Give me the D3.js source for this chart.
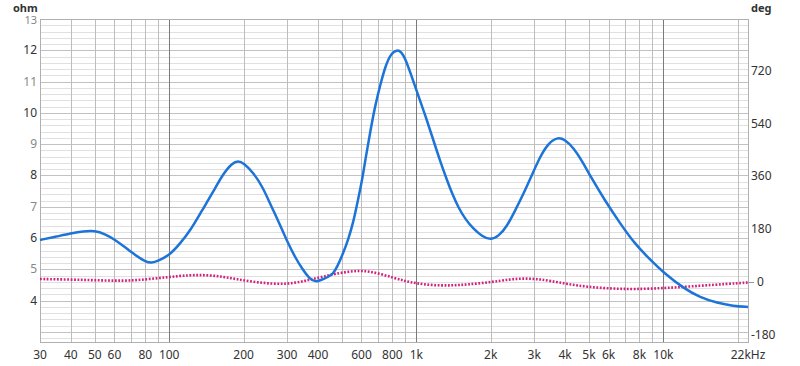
<!DOCTYPE html>
<meta charset="utf-8">
<style>
body { margin: 0; background: #fff; }
text { font-family: "Noto Sans", "DejaVu Sans", sans-serif; }
</style>
<body>
<script src="https://cdn.jsdelivr.net/npm/d3@7"></script>
<script>
// impedance curve (ohm)
var impFreq = [30, 35, 40, 45, 50, 55, 60, 66, 73, 80, 85, 90, 100, 110, 122, 135, 150, 165, 180, 190, 200, 219, 240, 256, 280, 300, 325, 348, 370, 390, 410, 440, 460, 480, 506, 530, 556, 580, 604, 625, 650, 680, 715, 750, 790, 837, 870, 901, 950, 1010, 1090, 1170, 1250, 1330, 1400, 1480, 1580, 1700, 1850, 1990, 2150, 2330, 2500, 2710, 2950, 3170, 3400, 3710, 4000, 4330, 4700, 5060, 5800, 6670, 7600, 8860, 10000, 12050, 14100, 16500, 19180, 22000];
var impOhm  = [5.94, 6.05, 6.15, 6.22, 6.24, 6.13, 5.96, 5.72, 5.45, 5.25, 5.2, 5.27, 5.45, 5.8, 6.25, 6.85, 7.45, 8.05, 8.4, 8.47, 8.4, 8.1, 7.6, 7.1, 6.45, 5.9, 5.35, 4.98, 4.7, 4.6, 4.65, 4.76, 4.85, 5.1, 5.52, 5.95, 6.5, 7.2, 7.86, 8.6, 9.36, 10.2, 10.9, 11.5, 11.9, 12.02, 11.95, 11.75, 11.25, 10.64, 9.9, 9.15, 8.45, 7.86, 7.4, 6.98, 6.6, 6.3, 6.05, 5.94, 6.05, 6.38, 6.85, 7.4, 8.05, 8.6, 9.0, 9.23, 9.15, 8.88, 8.45, 7.98, 7.2, 6.48, 5.85, 5.3, 4.9, 4.4, 4.1, 3.93, 3.83, 3.8];
// phase curve (deg)
var phFreq = [30, 40, 50, 65, 80, 100, 120, 140, 165, 188, 220, 256, 300, 340, 372, 420, 470, 540, 610, 700, 810, 900, 1000, 1170, 1400, 1610, 2000, 2400, 2710, 3100, 3500, 4100, 4900, 6230, 7600, 10300, 14100, 18000, 22000];
var phDeg  = [10, 8, 6, 3, 8, 17, 23, 24, 18, 9, 0, -6, -7, 0, 8, 18, 28, 36, 39, 30, 14, 3, -5, -12, -12, -9, -1, 9, 12, 10, 3, -7, -17, -23, -25, -21, -13, -7, -2];

var xTicks = [30, 40, 50, 60, 80, 100, 200, 300, 400, 600, 800, 1000, 2000, 3000, 4000, 5000, 6000, 8000, 10000, 22000];
var xTickLabels = ["30", "40", "50", "60", "80", "100", "200", "300", "400", "600", "800", "1k", "2k", "3k", "4k", "5k", "6k", "8k", "10k", "22kHz"];
var ohmTicks = [4, 5, 6, 7, 8, 9, 10, 11, 12, 13];
var degTicks = [-180, 0, 180, 360, 540, 720];

var width = 800, height = 366;
var pLeft = 40, pRight = 748, pTop = 19, pBottom = 342;

var svg = d3.select("body").append("svg").attr("width", width).attr("height", height);

var x = d3.scaleLog().domain([30, 22000]).range([pLeft, pRight]);
var y = d3.scaleLinear().domain([2.68, 13]).range([pBottom, pTop]);
var yR = d3.scaleLinear().domain([-205, 897]).range([pBottom, pTop]);

// horizontal grid every 0.2 ohm
var hg = d3.range(28, 131, 2).map(function(d){ return d / 10; });
svg.append("g").selectAll("line").data(hg).enter().append("line")
  .attr("x1", pLeft).attr("x2", pRight)
  .attr("y1", function(d){ return Math.round(y(d)) + 0.5; })
  .attr("y2", function(d){ return Math.round(y(d)) + 0.5; })
  .style("stroke", function(d){ return Math.abs(d - Math.round(d)) < 1e-6 ? "#c2c2c2" : "#e0e0e0"; })
  .style("stroke-width", 1);

// vertical grid
var vg = [];
[10, 100, 1000, 10000].forEach(function(dec){
  for (var k = 1; k < 10; k++) {
    var f = dec * k;
    if (f > 30 && f < 22000) vg.push(f);
  }
});
svg.append("g").selectAll("line").data(vg).enter().append("line")
  .attr("y1", pTop).attr("y2", pBottom)
  .attr("x1", function(d){ return Math.round(x(d)) + 0.5; })
  .attr("x2", function(d){ return Math.round(x(d)) + 0.5; })
  .style("stroke", function(d){ return [100, 1000, 10000].indexOf(d) >= 0 ? "#7a7a7a" : "#bdbdbd"; })
  .style("stroke-width", 1);

// frame
svg.append("rect").attr("x", pLeft + 0.5).attr("y", pTop + 0.5)
  .attr("width", pRight - pLeft).attr("height", pBottom - pTop)
  .style("fill", "none").style("stroke", "#b0b0b0");

// lines
var impLine = d3.line()
  .x(function(d, i){ return x(impFreq[i]); })
  .y(function(d){ return y(d); })
  .curve(d3.curveBasis);
var phLine = d3.line()
  .x(function(d, i){ return x(phFreq[i]); })
  .y(function(d){ return yR(d); })
  .curve(d3.curveBasis);

svg.append("path").attr("d", phLine(phDeg))
  .style("fill", "none").style("stroke", "#d3217d").style("stroke-width", 2.6)
  .style("stroke-dasharray", "1.8,1.6");
svg.append("path").attr("d", impLine(impOhm))
  .style("fill", "none").style("stroke", "#1c74d8").style("stroke-width", 2.5)
  .style("stroke-linejoin", "round");

// left labels
svg.append("g").selectAll("text").data(ohmTicks).enter().append("text")
  .attr("x", 37).attr("y", function(d){ return d == 13 ? y(d) + 5 : y(d) + 4; })
  .attr("text-anchor", "end")
  .style("font-size", function(d){ return d == 13 ? "11px" : "12px"; })
  .style("fill", function(d){ return d % 2 == 0 ? "#333" : "#888"; })
  .text(function(d){ return d; });

// right labels
svg.append("g").selectAll("text").data(degTicks).enter().append("text")
  .attr("x", function(d){ return d == 0 ? 757 : 751; })
  .attr("y", function(d){ return yR(d) + 4; })
  .style("font-size", "12px").style("fill", "#333")
  .text(function(d){ return d; });
svg.append("line").attr("x1", 749).attr("x2", 754)
  .attr("y1", Math.round(yR(0)) + 0.5).attr("y2", Math.round(yR(0)) + 0.5)
  .style("stroke", "#7f97b0");

// bottom labels
svg.append("g").selectAll("text").data(xTicks).enter().append("text")
  .attr("x", function(d){ return x(d); }).attr("y", 359)
  .attr("text-anchor", "middle")
  .style("font-size", "12px").style("fill", "#333")
  .text(function(d, i){ return xTickLabels[i]; });

// units
svg.append("text").attr("x", 13).attr("y", 12).style("font-size", "11px").style("font-weight", "bold").style("fill", "#333").text("ohm");
svg.append("text").attr("x", 751).attr("y", 12).style("font-size", "11px").style("font-weight", "bold").style("fill", "#333").text("deg");
</script>
</body>
